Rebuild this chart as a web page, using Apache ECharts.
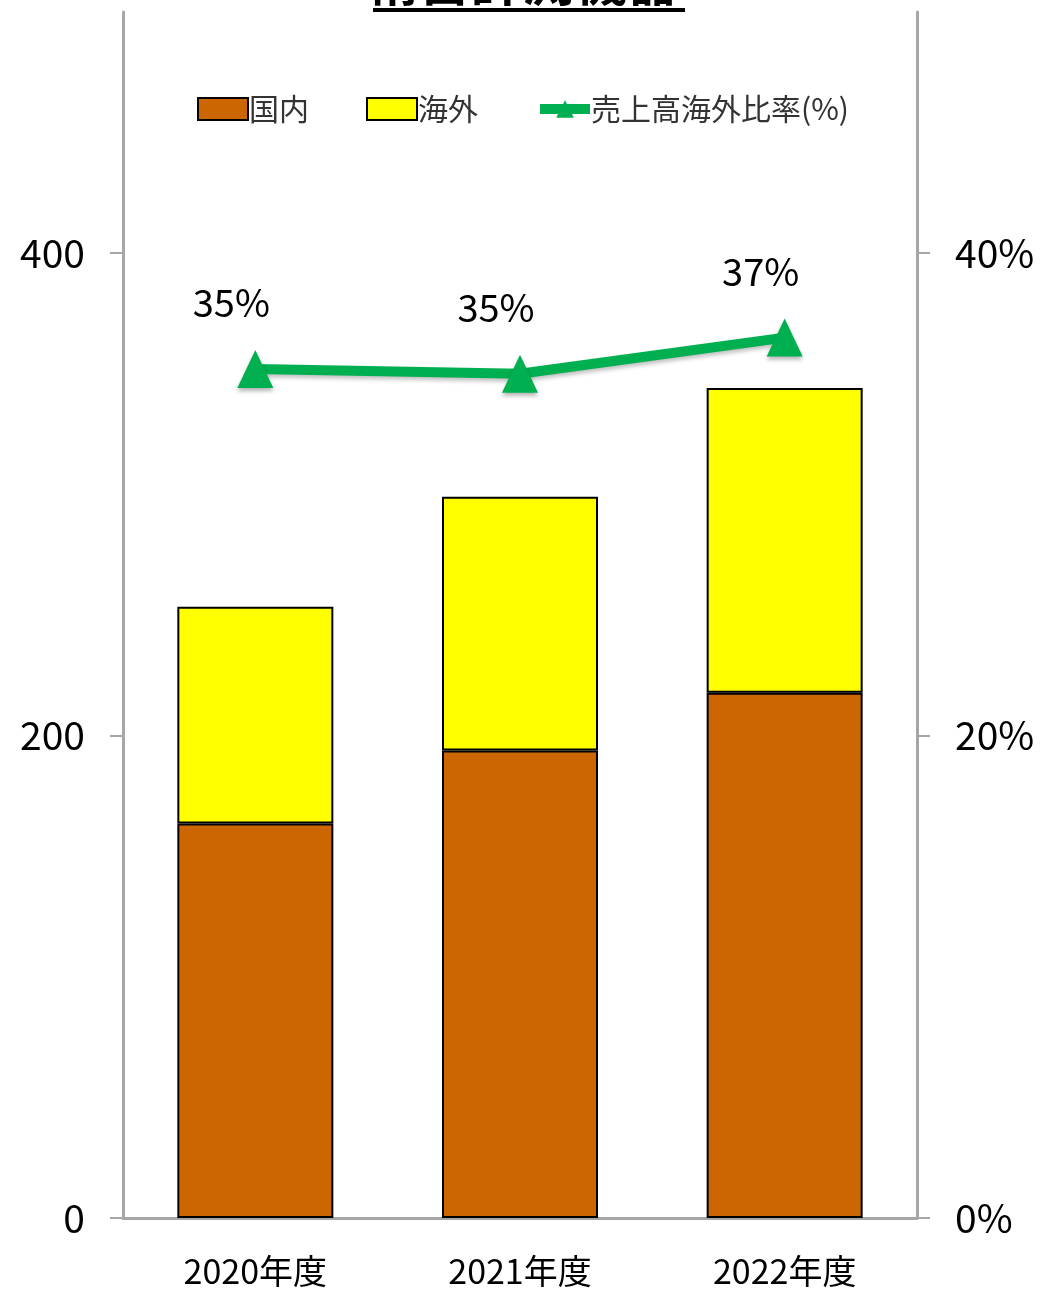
<!DOCTYPE html>
<html><head><meta charset="utf-8">
<script src="https://cdn.jsdelivr.net/npm/echarts@6/dist/echarts.min.js"></script>
<style>html,body{margin:0;padding:0;background:#fff}#c{width:1045px;height:1290px}</style>
</head><body><div id="c"></div>
<script>
const titleText = '精密計測機器';
const categories = ['2020年度', '2021年度', '2022年度'];
const domestic = [163.6, 193.8, 217.8];
const overseas = [89.8, 105.2, 126.3];
const overseasRatio = [35.2, 35.0, 36.5];
const leftTicks = [0, 200, 400];
const rightTicks = [0, 20, 40];
const seriesNames = ['国内', '海外', '売上高海外比率(%)'];

const FONT = '"Noto Sans CJK JP", "Noto Sans", sans-serif';
const GREEN = '#00B050';
const chart = echarts.init(document.getElementById('c'), null, {renderer: 'canvas'});
chart.setOption({
  backgroundColor: '#fff',
  animation: false,
  title: {
    text: titleText, left: 'center', top: -50,
    textStyle: {fontFamily: FONT, fontSize: 52, fontWeight: 'bold', color: '#000'}
  },
  graphic: [{type: 'rect', shape: {x: 373, y: 8, width: 312, height: 4}, style: {fill: '#000'}}],
  legend: {
    top: 89, left: 192, itemWidth: 50, itemHeight: 22, itemGap: 57,
    textStyle: {fontFamily: FONT, fontSize: 30, color: '#333', padding: [0, 0, 10, -4]},
    data: [
      {name: seriesNames[0], icon: 'rect'},
      {name: seriesNames[1], icon: 'rect'},
      {name: seriesNames[2], lineStyle: {width: 10, color: GREEN}, itemStyle: {color: GREEN}}
    ]
  },
  grid: {left: 123, right: 128, top: 12, bottom: 72, containLabel: false},
  xAxis: {
    type: 'category', data: categories,
    axisLine: {lineStyle: {color: '#A6A6A6', width: 3}},
    axisTick: {show: false},
    axisLabel: {fontFamily: FONT, fontSize: 34, color: '#000', margin: 36}
  },
  yAxis: [{
    type: 'value', min: 0, max: 500, interval: 100,
    axisLine: {show: true, lineStyle: {color: '#A6A6A6', width: 3}},
    axisTick: {show: true, length: 13, customValues: leftTicks, lineStyle: {color: '#A6A6A6', width: 2}},
    axisLabel: {customValues: leftTicks, fontFamily: FONT, fontSize: 39, color: '#000', margin: 38,
      padding: [0, 0, 10, 0]},
    splitLine: {show: false}
  }, {
    type: 'value', min: 0, max: 50, interval: 10,
    axisLine: {show: true, lineStyle: {color: '#A6A6A6', width: 3}},
    axisTick: {show: true, length: 13, customValues: rightTicks, lineStyle: {color: '#A6A6A6', width: 2}},
    axisLabel: {customValues: rightTicks, fontFamily: FONT, fontSize: 39, color: '#000', margin: 38,
      padding: [0, 0, 10, 0], formatter: v => v + '%'},
    splitLine: {show: false}
  }],
  series: [{
    name: seriesNames[0], type: 'bar', stack: 'total', barWidth: 156, data: domestic,
    itemStyle: {color: '#CC6600', borderColor: '#000', borderWidth: 2}
  }, {
    name: seriesNames[1], type: 'bar', stack: 'total', barWidth: 156, data: overseas,
    itemStyle: {color: '#FFFF00', borderColor: '#000', borderWidth: 2}
  }, {
    name: seriesNames[2], type: 'line', yAxisIndex: 1, data: overseasRatio,
    symbol: 'triangle', symbolSize: [36, 38],
    lineStyle: {color: GREEN, width: 10, shadowColor: 'rgba(0,0,0,0.25)', shadowBlur: 4, shadowOffsetY: 3},
    itemStyle: {color: GREEN, shadowColor: 'rgba(0,0,0,0.3)', shadowBlur: 4, shadowOffsetY: 3},
    label: {show: true, position: 'top', distance: 28, offset: [-24, 0],
      fontFamily: FONT, fontSize: 38, color: '#000',
      formatter: p => Math.round(p.value) + '%'},
    z: 5
  }]
});
</script></body></html>
